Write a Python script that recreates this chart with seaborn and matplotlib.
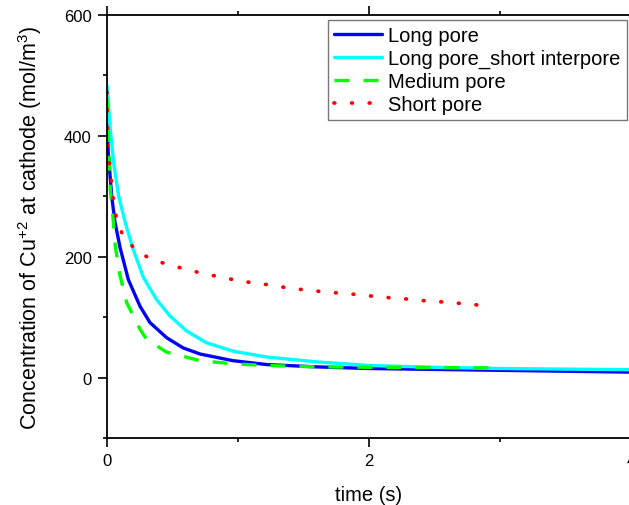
import numpy as np
import pandas as pd
import matplotlib
matplotlib.use("Agg")
import matplotlib.pyplot as plt
import seaborn as sns

# Data
t_long = [0.0, 0.01, 0.036, 0.061, 0.1, 0.163, 0.252, 0.328, 0.455, 0.582, 0.71, 0.96, 1.22, 1.6, 2.0, 2.5, 3.0, 3.5, 4.0]
c_long = [420, 370, 300, 257, 215, 162, 118, 91, 66, 49, 39, 28, 21.5, 17.7, 15, 13.5, 12, 10.5, 9]

t_lsi = [0.0, 0.025, 0.05, 0.089, 0.14, 0.2, 0.277, 0.379, 0.48, 0.608, 0.76, 0.964, 1.22, 1.6, 2.0, 2.5, 3.0, 3.5, 4.0]
c_lsi = [483, 411, 356, 300, 256, 212, 166, 129, 102, 77, 57.5, 43.6, 34, 26, 20, 17, 15, 14, 13]

t_med = [0.0, 0.01, 0.025, 0.045, 0.063, 0.096, 0.15, 0.252, 0.303, 0.455, 0.71, 0.96, 1.22, 1.6, 2.0, 2.5, 3.0]
c_med = [463, 400, 312, 267, 218, 172, 124, 80, 63, 42, 28, 22.7, 20, 17.7, 17, 16.5, 16]

t_short = [0.0, 0.005, 0.02, 0.033, 0.046, 0.069, 0.117, 0.222, 0.354, 0.49, 0.62, 0.76, 0.9, 1.03, 1.16, 1.3, 1.43, 1.56, 1.7, 1.83, 1.97, 2.1, 2.24, 2.37, 2.5, 2.64, 2.77, 2.92]
c_short = [472, 383, 356, 328, 298, 267, 237, 210, 194, 186, 178, 171, 165, 159, 156, 151, 147, 144, 141, 139, 136, 133, 131, 128, 126, 124, 121, 119]

labels = ["Long pore", "Long pore_short interpore", "Medium pore", "Short pore"]
colors = ["#0000ff", "#00ffff", "#00ff00", "#ff0000"]

sns.set_style("ticks")
plt.rcParams["font.family"] = ["Liberation Sans", "DejaVu Sans"]
plt.rcParams["mathtext.fontset"] = "custom"
plt.rcParams["mathtext.rm"] = "Liberation Sans"
plt.rcParams["mathtext.it"] = "Liberation Sans"
for k in ["text.color", "axes.labelcolor", "xtick.color", "ytick.color", "axes.edgecolor"]:
    plt.rcParams[k] = "black"

fig = plt.figure(figsize=(6.29, 5.06), dpi=100)
ax = fig.add_axes([107/629, (506-439)/506, (631-107)/629, (439-16)/506])

sns.lineplot(x=t_long, y=c_long, ax=ax, color=colors[0], lw=2.4, label=labels[0])
sns.lineplot(x=t_lsi, y=c_lsi, ax=ax, color=colors[1], lw=2.4, label=labels[1])
sns.lineplot(x=t_med, y=c_med, ax=ax, color=colors[2], lw=2.4, label=labels[2],
             linestyle=(0, (4.5, 4.2)))
sns.lineplot(x=t_short, y=c_short, ax=ax, color=colors[3], lw=2.7, label=labels[3],
             linestyle=(0, (0.2, 4.5)), dash_capstyle="round")

ax.set_xlim(0, 4)
ax.set_ylim(-100, 600)
ax.set_xticks([0, 2, 4])
ax.set_xticks([1, 3], minor=True)
ax.set_yticks([0, 200, 400, 600])
ax.set_yticks([-100, 100, 300, 500], minor=True)
ax.tick_params(axis="both", which="major", direction="out", length=6.5, width=1.2, pad=4.5,
               labelsize=12, colors="black", top=True, right=True, labeltop=False, labelright=False)
ax.tick_params(axis="both", which="minor", direction="out", length=3, width=1.2,
               colors="black", top=True, right=True)
for s in ax.spines.values():
    s.set_linewidth(1.3)
    s.set_color("black")

ax.set_xlabel("time (s)", fontsize=14.5, labelpad=12, color="black")
ax.set_ylabel("Concentration of Cu$^{+2}$ at cathode (mol/m$^3$)", fontsize=15.5, labelpad=14, color="black")

leg = ax.legend(loc="upper right", bbox_to_anchor=(0.992, 0.988), fontsize=14.5,
                frameon=True, fancybox=False, handlelength=2.4, handletextpad=0.3,
                borderpad=0.3, labelspacing=0.2, borderaxespad=0.0)
leg.get_frame().set_edgecolor("#555555")
leg.get_frame().set_linewidth(1.0)
for txt in leg.get_texts():
    txt.set_color("black")

fig.savefig("out.png", dpi=100)
